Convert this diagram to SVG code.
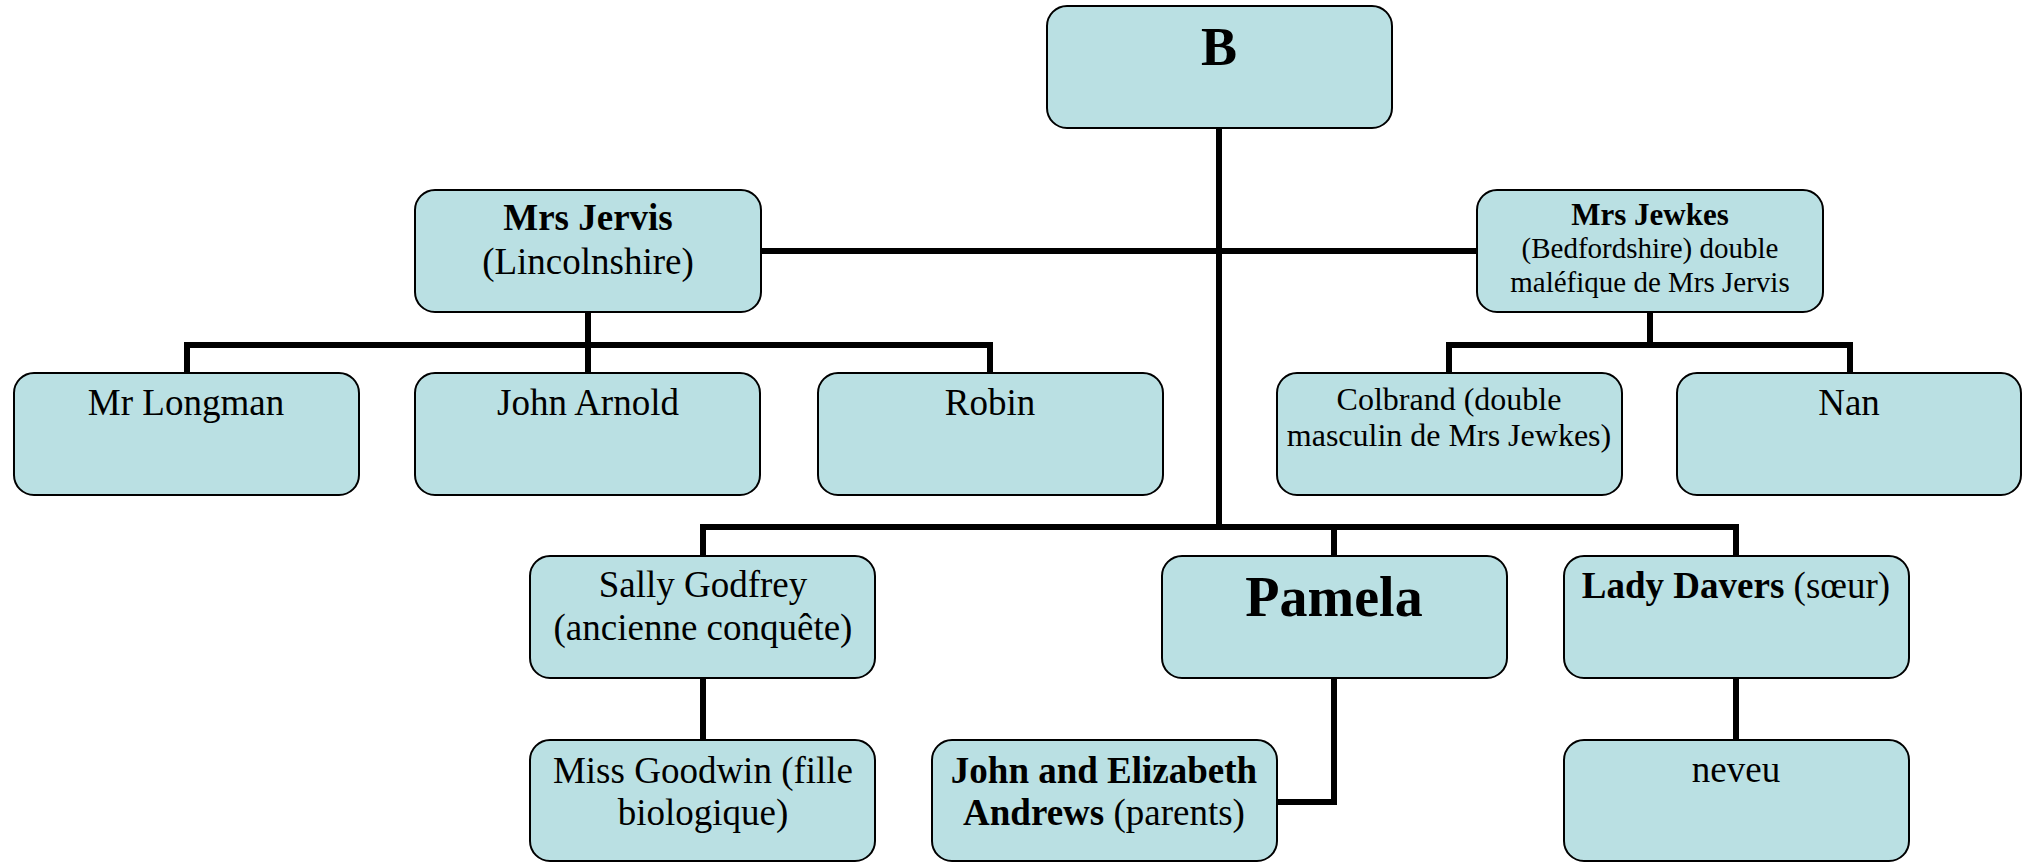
<svg xmlns="http://www.w3.org/2000/svg" width="2022" height="862" viewBox="0 0 2022 862">
<style>
.box{fill:#BAE0E3;stroke:#000;stroke-width:2}
.t{font-family:"Liberation Serif","Times New Roman",serif;fill:#000;text-anchor:middle}
.r{font-size:37px}
.s{font-size:32px}
.j{font-size:29px}
.b{font-weight:bold}
.con{fill:none;stroke:#000;stroke-width:6;stroke-linejoin:miter;stroke-linecap:butt}
</style>
<rect width="2022" height="862" fill="#fff"/>
<g id="connectors" class="con">
<path d="M1219 128 V527"/>
<path d="M761 251 H1477"/>
<path d="M588 312 V373"/>
<path d="M187 373 V345 H990 V373"/>
<path d="M1650 312 V345"/>
<path d="M1449 373 V345 H1850 V373"/>
<path d="M703 556 V527 H1736 V556"/>
<path d="M1334 527 V556"/>
<path d="M703 678 V740"/>
<path d="M1334 678 V802 H1277"/>
<path d="M1736 678 V740"/>
</g>
<g id="node-B"><rect class="box" x="1047" y="6" width="345" height="122" rx="20"/><text class="t b" x="1219" y="65" font-size="54">B</text></g>
<g id="node-jervis"><rect class="box" x="415" y="190" width="346" height="122" rx="20"/><text class="t r b" x="588" y="230">Mrs Jervis</text><text class="t r" x="588" y="274">(Lincolnshire)</text></g>
<g id="node-jewkes"><rect class="box" x="1477" y="190" width="346" height="122" rx="20"/><text class="t b" x="1650" y="225" font-size="31">Mrs Jewkes</text><text class="t j" x="1650" y="258">(Bedfordshire) double</text><text class="t j" x="1650" y="292">maléfique de Mrs Jervis</text></g>
<g id="node-longman"><rect class="box" x="14" y="373" width="345" height="122" rx="20"/><text class="t r" x="186" y="415">Mr Longman</text></g>
<g id="node-arnold"><rect class="box" x="415" y="373" width="345" height="122" rx="20"/><text class="t r" x="588" y="415">John Arnold</text></g>
<g id="node-robin"><rect class="box" x="818" y="373" width="345" height="122" rx="20"/><text class="t r" x="990" y="415">Robin</text></g>
<g id="node-colbrand"><rect class="box" x="1277" y="373" width="345" height="122" rx="20"/><text class="t s" x="1449" y="410">Colbrand (double</text><text class="t s" x="1449" y="446">masculin de Mrs Jewkes)</text></g>
<g id="node-nan"><rect class="box" x="1677" y="373" width="344" height="122" rx="20"/><text class="t r" x="1849" y="415">Nan</text></g>
<g id="node-sally"><rect class="box" x="530" y="556" width="345" height="122" rx="20"/><text class="t r" x="703" y="597">Sally Godfrey</text><text class="t r" x="703" y="640">(ancienne conquête)</text></g>
<g id="node-pamela"><rect class="box" x="1162" y="556" width="345" height="122" rx="20"/><text class="t b" x="1334" y="616" font-size="56">Pamela</text></g>
<g id="node-davers"><rect class="box" x="1564" y="556" width="345" height="122" rx="20"/><text class="t r" x="1736" y="598"><tspan font-weight="bold">Lady Davers</tspan> (sœur)</text></g>
<g id="node-goodwin"><rect class="box" x="530" y="740" width="345" height="121" rx="20"/><text class="t r" x="703" y="783">Miss Goodwin (fille</text><text class="t r" x="703" y="825">biologique)</text></g>
<g id="node-andrews"><rect class="box" x="932" y="740" width="345" height="121" rx="20"/><text class="t r b" x="1104" y="783">John and Elizabeth</text><text class="t r" x="1104" y="825"><tspan font-weight="bold">Andrews</tspan> (parents)</text></g>
<g id="node-neveu"><rect class="box" x="1564" y="740" width="345" height="121" rx="20"/><text class="t r" x="1736" y="782">neveu</text></g>
</svg>
